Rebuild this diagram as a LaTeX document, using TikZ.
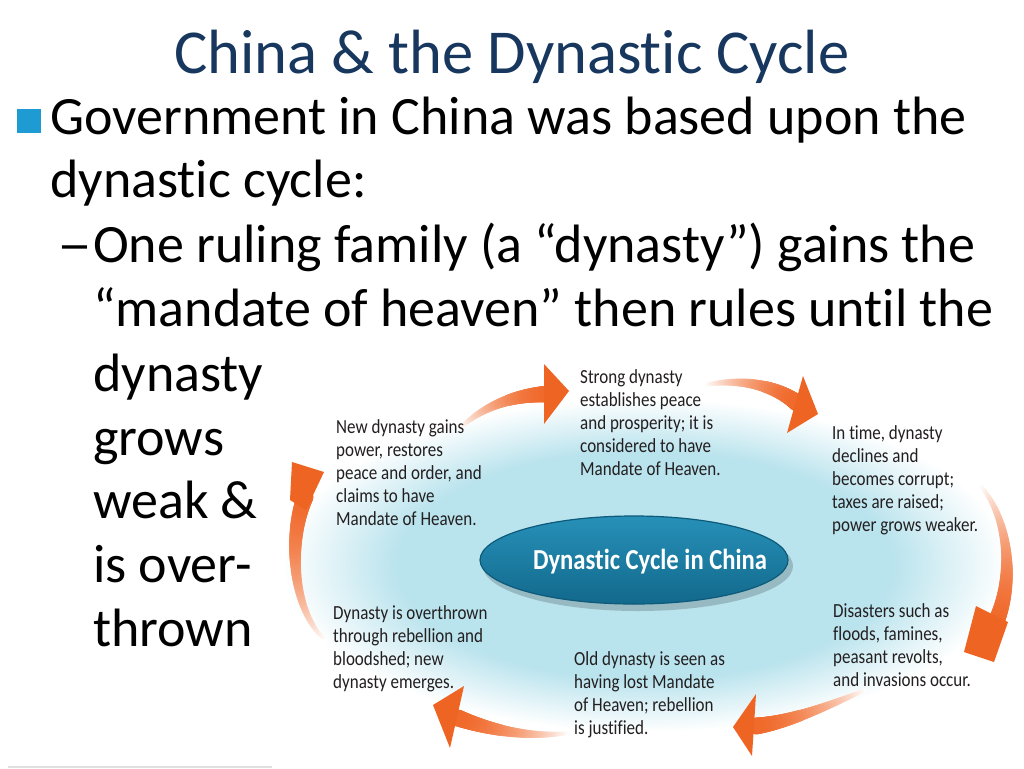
\documentclass[tikz,border=0pt]{standalone}
\usepackage{fontspec}
\setmainfont{Carlito}[Ligatures={NoCommon}]
\newfontfamily\diagfont{Carlito}[FakeStretch=0.85, Ligatures={NoCommon}]
\definecolor{titleblue}{HTML}{17375E}
\definecolor{bulletblue}{HTML}{1F9BD4}
\definecolor{glowc}{HTML}{B9E3ED}
\definecolor{arrowc}{HTML}{F06A2C}
\definecolor{headc}{HTML}{EE6422}
\definecolor{elltop}{HTML}{2790B8}
\definecolor{ellbot}{HTML}{12698C}
\definecolor{ellrim}{HTML}{0D5A7A}
\definecolor{dtext}{HTML}{231F20}
\pgfdeclareradialshading{glowshade}{\pgfpoint{0bp}{0bp}}{color(0bp)=(glowc); color(17bp)=(glowc); color(25bp)=(white); color(50bp)=(white)}
\newcommand\dlines[1]{\begin{tabular}[t]{@{}l@{}}#1\end{tabular}}
\newcommand\cycarrow[4]{%
  \foreach \i in {0,...,80}{%
    \pgfmathsetmacro\ct{\i/80}%
    \pgfmathsetmacro\pc{100*\ct*(1.7-0.7*\ct)}%
    \pgfmathsetmacro\rr{1.8+6.7*\ct}%
    \path #1 .. controls #2 and #3 .. #4 coordinate[pos=\ct] (abp);%
    \fill[arrowc!\pc!white] (abp) circle[radius=\rr pt];%
  }}
\begin{document}
\begin{tikzpicture}[x=1pt,y=-1pt,
  bigtxt/.style={font=\fontsize{54}{64}\selectfont, inner sep=0pt, anchor=base west, text=black},
  dtxt/.style={font=\diagfont\fontsize{20}{23}\selectfont, inner sep=0pt, anchor=base west, text=dtext},
  headshape/.style={fill=headc}]
\useasboundingbox (0,0) rectangle (1024,768);
\fill[white] (0,0) rectangle (1024,768);

% glow
\shade[shading=glowshade] (282,398) rectangle (1008,732);

% title
\node[font=\fontsize{62.5}{74}\selectfont, text=titleblue, inner sep=0pt, anchor=base] (title) at (512,73) {China \& the Dynastic Cycle};

% bullet text
\fill[bulletblue] (17,109) rectangle (41,133);
\node[bigtxt] (l1) at (50,134) {Government in China was based upon the};
\node[bigtxt] (l2) at (50,197) {dynastic cycle:};
\node[bigtxt] (dash) at (57,262) {\scalebox{1.3}[1]{\textendash}};
\node[bigtxt] (l3) at (93,262) {One ruling family (a “dynasty”) gains the};
\node[bigtxt] (l4) at (93,326) {“mandate of heaven” then rules until the};
\node[bigtxt] (l5) at (93,391) {dynasty};
\node[bigtxt] (l6) at (93,455) {grows};
\node[bigtxt] (l7) at (93,518) {weak \&};
\node[bigtxt] (l8) at (93,582) {is over-};
\node[bigtxt] (l9) at (93,646) {thrown};

% central ellipse
\fill[black, opacity=0.18] (638,566) ellipse[x radius=155pt, y radius=45pt];
\shade[top color=elltop, bottom color=ellbot, draw=ellrim, line width=1.2pt] (634,560) ellipse[x radius=154pt, y radius=44pt];
\node[font=\diagfont\bfseries\fontsize{29}{30}\selectfont, text=white, inner sep=0pt] (center) at (650,562) {Dynastic Cycle in China};

% arrows
\cycarrow{(460,428)}{(485,405)}{(515,395)}{(548,394)}
\fill[headshape] (544,364) -- (569,391) -- (544,424) -- cycle;

\cycarrow{(705,385)}{(740,378)}{(775,385)}{(797,403)}
\fill[headshape] (803,376) -- (818,414) -- (787,433) -- cycle;

\cycarrow{(980,485)}{(1010,520)}{(1014,580)}{(996,622)}
\fill[headshape] (976,606) -- (1008,622) -- (994,662) -- (964,652) -- cycle;

\cycarrow{(865,690)}{(830,705)}{(790,722)}{(756,726)}
\fill[headshape] (756,694) -- (733,727) -- (752,756) -- cycle;

\cycarrow{(568,733)}{(530,738)}{(490,730)}{(458,718)}
\fill[headshape] (464,686) -- (433,705) -- (450,748) -- cycle;

\cycarrow{(325,640)}{(292,610)}{(288,540)}{(305,497)}
\fill[headshape] (292,462) -- (324,472) -- (306,510) -- (290,500) -- cycle;

% diagram texts
\node[dtxt] (tA) at (336,433) {\dlines{New dynasty gains\\power, restores\\peace and order, and\\claims to have\\Mandate of Heaven.}};
\node[dtxt] (tB) at (580,383) {\dlines{Strong dynasty\\establishes peace\\and prosperity; it is\\considered to have\\Mandate of Heaven.}};
\node[dtxt] (tC) at (832,439) {\dlines{In time, dynasty\\declines and\\becomes corrupt;\\taxes are raised;\\power grows weaker.}};
\node[dtxt] (tD) at (833,617) {\dlines{Disasters such as\\floods, famines,\\peasant revolts,\\and invasions occur.}};
\node[dtxt] (tE) at (574,665) {\dlines{Old dynasty is seen as\\having lost Mandate\\of Heaven; rebellion\\is justified.}};
\node[dtxt] (tF) at (333,619) {\dlines{Dynasty is overthrown\\through rebellion and\\bloodshed; new\\dynasty emerges.}};

% thin footer line
\draw[black!12, line width=1.2pt] (8,767) -- (272,767);
\end{tikzpicture}
\end{document}
